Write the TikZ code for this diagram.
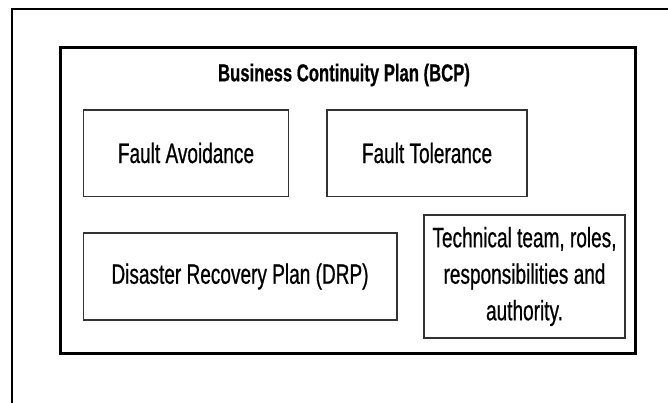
\documentclass[tikz,border=0pt]{standalone}
\usepackage{fontspec}
\setmainfont[FakeStretch=0.68,FakeBold=0.6]{Liberation Sans}
\begin{document}
\begin{tikzpicture}[x=1pt,y=-1pt,
  frame/.style={draw=black,line width=2pt},
  outerbox/.style={draw=black,line width=3pt},
  itembox/.style={draw=black!80,line width=1.4pt,fill=white},
  label/.style={font=\fontsize{28}{36.5}\selectfont,align=center,inner sep=0pt},
  title/.style={font=\fontsize{24.5}{28}\selectfont\bfseries,inner sep=0pt}]
\useasboundingbox (0,0) rectangle (668,403);
\begin{scope}
\clip (0,0) rectangle (668,403);
\draw[frame] (12.3,9) rectangle (700,430);
\end{scope}
\draw[outerbox] (60.5,47.5) rectangle (635,353);
\node[title] (bcp) at (344,75) {Business Continuity Plan (BCP)};
\draw[itembox] (83.5,110) rectangle (288.5,196.5);
\node[label] (fa) at (186,153) {Fault Avoidance};
\draw[itembox] (327,110) rectangle (527,196.5);
\node[label] (ft) at (427,153) {Fault Tolerance};
\draw[itembox] (83.5,233) rectangle (397,320);
\node[label] (drp) at (240,276.5) {Disaster Recovery Plan (DRP)};
\draw[itembox] (424,215) rectangle (625,338);
\node[label] (tech) at (524.5,276.5) {Technical team, roles,\\responsibilities and\\authority.};
\end{tikzpicture}
\end{document}
